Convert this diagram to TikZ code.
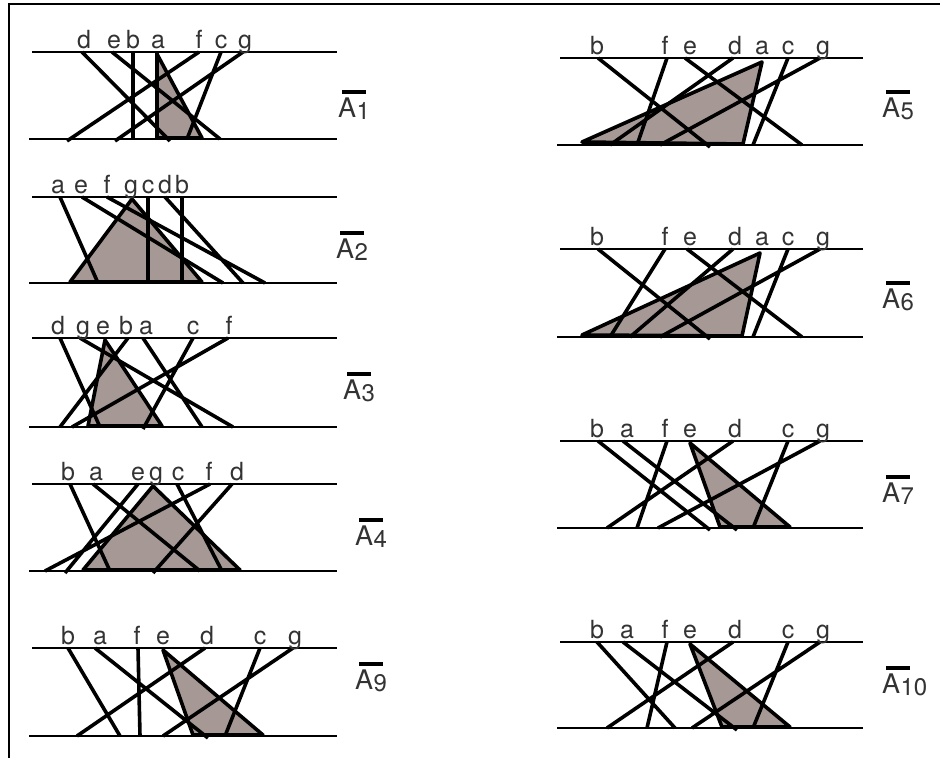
\documentclass[tikz,border=0pt]{standalone}
\usepackage{fontspec}
\setmainfont{TeX Gyre Heros}
\definecolor{shade}{RGB}{166,153,149}

\begin{document}
\begin{tikzpicture}[x=1pt,y=-1pt,
  rail/.style={line width=2.3pt},
  seg/.style={line width=3.6pt},
  tri/.style={fill=shade,draw=black,line width=3.6pt,line join=round},
  lbl/.style={anchor=base,inner sep=0pt,text=black!80,font=\fontsize{25}{25}\selectfont},
  alab/.style={anchor=base west,inner sep=0pt,text=black!80,font=\fontsize{27}{27}\selectfont},
  sublab/.style={anchor=base west,inner sep=0pt,text=black!80,font=\fontsize{24}{24}\selectfont},
  bar/.style={line width=3.5pt}]
\useasboundingbox (0,0) rectangle (940,758);
\draw[line width=2pt] (9,758) -- (9,4) -- (940,4);

% A1
\filldraw[tri] (157,54) -- (202,138) -- (157,138) -- cycle;
\draw[seg] (82,52) -- (170,141) (112,52) -- (220,139) (133,52) -- (133,139)
  (157,52) -- (157,139) (199,52) -- (67,141) (221,52) -- (187,139) (243,52) -- (115,141);
\draw[rail] (32,52) -- (337,52) (29,139) -- (337,139);
\node[lbl] (a1d) at (84,48) {d};
\node[lbl] (a1e) at (114,48) {e};
\node[lbl] (a1b) at (133,48) {b};
\node[lbl] (a1a) at (158,48) {a};
\node[lbl] (a1f) at (199,48) {f};
\node[lbl] (a1c) at (221,48) {c};
\node[lbl] (a1g) at (245,48) {g};

% A2
\filldraw[tri] (132,199) -- (202,282) -- (70,282) -- cycle;
\draw[seg] (60,197) -- (98,283) (82,197) -- (223,283) (107,197) -- (265,283)
  (148,197) -- (148,283) (165,197) -- (243,283) (182,197) -- (182,283);
\draw[rail] (32,197) -- (337,197) (29,283) -- (337,283);
\node[lbl] (a2a) at (58,193) {a};
\node[lbl] (a2e) at (81,193) {e};
\node[lbl] (a2f) at (107,193) {f};
\node[lbl] (a2g) at (131,193) {g};
\node[lbl] (a2c) at (148,193) {c};
\node[lbl] (a2d) at (165,193) {d};
\node[lbl] (a2b) at (182,193) {b};

% A3
\filldraw[tri] (105,340) -- (162,426) -- (88,426) -- cycle;
\draw[seg] (60,338) -- (100,427) (80,338) -- (233,427) (128,338) -- (60,427)
  (143,338) -- (202,427) (193,338) -- (143,429) (228,338) -- (72,427);
\draw[rail] (32,338) -- (337,338) (29,427) -- (337,427);
\node[lbl] (a3d) at (58,334) {d};
\node[lbl] (a3g) at (83,334) {g};
\node[lbl] (a3e) at (103,334) {e};
\node[lbl] (a3b) at (126,334) {b};
\node[lbl] (a3a) at (146,334) {a};
\node[lbl] (a3c) at (193,334) {c};
\node[lbl] (a3f) at (229,334) {f};

% A4
\filldraw[tri] (153,486) -- (240,570) -- (83,570) -- cycle;
\draw[seg] (70,484) -- (110,571) (93,484) -- (200,571) (138,484) -- (65,573)
  (177,484) -- (222,571) (210,484) -- (45,571) (232,484) -- (153,573);
\draw[rail] (32,484) -- (337,484) (29,571) -- (337,571);
\node[lbl] (a4b) at (68,480) {b};
\node[lbl] (a4a) at (96,480) {a};
\node[lbl] (a4e) at (138,480) {e};
\node[lbl] (a4g) at (156,480) {g};
\node[lbl] (a4c) at (178,480) {c};
\node[lbl] (a4f) at (209,480) {f};
\node[lbl] (a4d) at (237,480) {d};

% A9
\filldraw[tri] (163,650) -- (263,735) -- (193,735) -- cycle;
\draw[seg] (68,648) -- (120,736) (95,648) -- (208,738) (138,648) -- (140,736)
  (205,648) -- (77,736) (260,648) -- (225,736) (293,648) -- (163,736);
\draw[rail] (32,648) -- (337,648) (29,736) -- (337,736);
\node[lbl] (a9b) at (68,644) {b};
\node[lbl] (a9a) at (100,644) {a};
\node[lbl] (a9f) at (137,644) {f};
\node[lbl] (a9e) at (163,644) {e};
\node[lbl] (a9d) at (207,644) {d};
\node[lbl] (a9c) at (260,644) {c};
\node[lbl] (a9g) at (295,644) {g};

% A5
\filldraw[tri] (762,62) -- (743,144) -- (582,142) -- cycle;
\draw[seg] (598,58) -- (710,147) (667,58) -- (637,145) (685,58) -- (802,145)
  (733,58) -- (610,145) (788,58) -- (753,145) (820,58) -- (660,145);
\draw[rail] (560,58) -- (863,58) (557,145) -- (863,145);
\node[lbl] (a5b) at (597,54) {b};
\node[lbl] (a5f) at (665,54) {f};
\node[lbl] (a5e) at (690,54) {e};
\node[lbl] (a5d) at (735,54) {d};
\node[lbl] (a5a) at (762,54) {a};
\node[lbl] (a5c) at (788,54) {c};
\node[lbl] (a5g) at (823,54) {g};

% A6
\filldraw[tri] (760,253) -- (742,336) -- (582,335) -- cycle;
\draw[seg] (598,249) -- (710,339) (665,249) -- (610,337) (687,249) -- (802,337)
  (733,249) -- (630,337) (788,249) -- (753,337) (820,249) -- (660,337);
\draw[rail] (560,249) -- (863,249) (557,337) -- (863,337);
\node[lbl] (a6b) at (597,245) {b};
\node[lbl] (a6f) at (665,245) {f};
\node[lbl] (a6e) at (690,245) {e};
\node[lbl] (a6d) at (735,245) {d};
\node[lbl] (a6a) at (762,245) {a};
\node[lbl] (a6c) at (788,245) {c};
\node[lbl] (a6g) at (823,245) {g};

% A7
\filldraw[tri] (690,443) -- (790,527) -- (720,527) -- cycle;
\draw[seg] (598,441) -- (710,530) (623,441) -- (737,530) (667,441) -- (637,528)
  (733,441) -- (607,528) (788,441) -- (753,528) (820,441) -- (658,528);
\draw[rail] (560,441) -- (863,441) (557,528) -- (863,528);
\node[lbl] (a7b) at (597,437) {b};
\node[lbl] (a7a) at (627,437) {a};
\node[lbl] (a7f) at (665,437) {f};
\node[lbl] (a7e) at (690,437) {e};
\node[lbl] (a7d) at (735,437) {d};
\node[lbl] (a7c) at (788,437) {c};
\node[lbl] (a7g) at (823,437) {g};

% A10
\filldraw[tri] (690,644) -- (790,727) -- (722,727) -- cycle;
\draw[seg] (597,642) -- (675,728) (623,642) -- (737,730) (667,642) -- (647,728)
  (733,642) -- (607,728) (788,642) -- (753,728) (820,642) -- (692,728);
\draw[rail] (560,642) -- (863,642) (557,728) -- (863,728);
\node[lbl] (a10b) at (597,638) {b};
\node[lbl] (a10a) at (627,638) {a};
\node[lbl] (a10f) at (665,638) {f};
\node[lbl] (a10e) at (690,638) {e};
\node[lbl] (a10d) at (735,638) {d};
\node[lbl] (a10c) at (788,638) {c};
\node[lbl] (a10g) at (823,638) {g};

% set names
\node[alab] (n1) at (338,117) {A};
\node[sublab] (n1s) at ([yshift=-2pt]n1.base east) {1};
\node[alab] (n2) at (336,258) {A};
\node[sublab] (n2s) at ([yshift=-2pt]n2.base east) {2};
\node[alab] (n3) at (343,399) {A};
\node[sublab] (n3s) at ([yshift=-2pt]n3.base east) {3};
\node[alab] (n4) at (355,545) {A};
\node[sublab] (n4s) at ([yshift=-2pt]n4.base east) {4};
\node[alab] (n9) at (355,689) {A};
\node[sublab] (n9s) at ([yshift=-2pt]n9.base east) {9};
\node[alab] (n5) at (882,117) {A};
\node[sublab] (n5s) at ([yshift=-2pt]n5.base east) {5};
\node[alab] (n6) at (882,308) {A};
\node[sublab] (n6s) at ([yshift=-2pt]n6.base east) {6};
\node[alab] (n7) at (882,502) {A};
\node[sublab] (n7s) at ([yshift=-2pt]n7.base east) {7};
\node[alab] (n10) at (882,693) {A};
\node[sublab] (n10s) at ([yshift=-2pt]n10.base east) {10};
\foreach \n in {1,2,3,4,9,5,6,7,10}
  \draw[bar] ([xshift=4pt,yshift=5pt]n\n.north west) -- ++(24,0);
\end{tikzpicture}
\end{document}
